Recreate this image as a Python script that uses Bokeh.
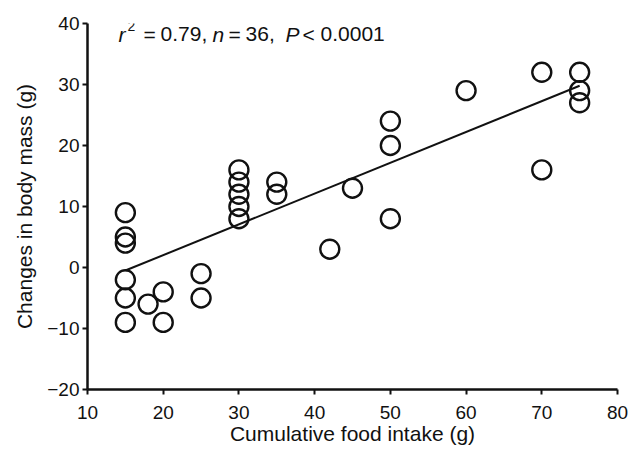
from bokeh.plotting import figure
from bokeh.models import Label, FixedTicker, Range1d
from bokeh.embed import file_html
from bokeh.resources import INLINE

# Data
food_intake = [15, 15, 15, 15, 15, 15, 18, 20, 20, 25, 25,
               30, 30, 30, 30, 30, 35, 35, 42, 45, 50, 50, 50,
               60, 70, 70, 75, 75, 75]
mass_change = [9, 5, 4, -2, -5, -9, -6, -4, -9, -1, -5,
               16, 14, 12, 10, 8, 14, 12, 3, 13, 24, 20, 8,
               29, 32, 16, 32, 29, 27]
fit_x = [15, 75]
fit_y = [-0.5, 29.8]

x_ticks = [10, 20, 30, 40, 50, 60, 70, 80]
y_ticks = [-20, -10, 0, 10, 20, 30, 40]
y_tick_labels = {-20: "\u221220", -10: "\u221210", 0: "0", 10: "10", 20: "20", 30: "30", 40: "40"}

FONT = "Liberation Sans"
INK = "#111111"

p = figure(width=631, height=456, output_backend="svg", toolbar_location=None,
           x_range=Range1d(10, 80), y_range=Range1d(-20, 40),
           min_border_left=87, min_border_right=14, min_border_top=23, min_border_bottom=67)
p.outline_line_color = None
p.xgrid.visible = False
p.ygrid.visible = False
p.background_fill_color = "white"
p.border_fill_color = "white"

p.line(fit_x, fit_y, line_color=INK, line_width=2)
p.scatter(food_intake, mass_change, marker="circle", size=19, fill_color=None,
          line_color=INK, line_width=2.4)

for ax in (p.xaxis[0], p.yaxis[0]):
    ax.axis_line_width = 2.5
    ax.axis_line_color = INK
    ax.major_tick_line_color = INK
    ax.major_tick_line_width = 2
    ax.major_tick_out = 5
    ax.major_tick_in = 0
    ax.minor_tick_line_color = None
    ax.major_label_text_font = FONT
    ax.major_label_text_font_size = "19px"
    ax.major_label_text_color = INK
    ax.axis_label_text_font = FONT
    ax.axis_label_text_font_size = "21px"
    ax.axis_label_text_font_style = "normal"
    ax.axis_label_text_color = INK

p.xaxis.ticker = FixedTicker(ticks=x_ticks)
p.yaxis.ticker = FixedTicker(ticks=y_ticks)
p.yaxis.major_label_overrides = y_tick_labels
p.xaxis.axis_label = "Cumulative food intake (g)"
p.yaxis.axis_label = "Changes in body mass (g)"
p.xaxis.major_label_standoff = 11
p.yaxis.major_label_standoff = 3
p.xaxis.axis_label_standoff = 0
p.yaxis.axis_label_standoff = 8

# Annotation pieces
ax0, ay0 = 14.1, 38.2
pieces = [
    ("r", 0, 0, "21px", "italic"),
    ("2", 9, 8, "14px", "normal"),
    ("=", 25, 0, "21px", "normal"),
    ("0.79,", 42, 0, "21px", "normal"),
    ("n", 94, 0, "21px", "italic"),
    ("=", 110, 0, "21px", "normal"),
    ("36,", 127, 0, "21px", "normal"),
    ("P", 167, 0, "21px", "italic"),
    ("<", 184, 0, "21px", "normal"),
    ("0.0001", 202, 0, "21px", "normal"),
]
for txt, dx, dy, fs, st in pieces:
    p.add_layout(Label(x=ax0, y=ay0, x_offset=dx, y_offset=dy, text=txt,
                       text_font=FONT, text_font_size=fs, text_font_style=st,
                       text_color=INK, text_baseline="alphabetic", text_align="left"))

open("out.html", "w").write(file_html(p, INLINE))
